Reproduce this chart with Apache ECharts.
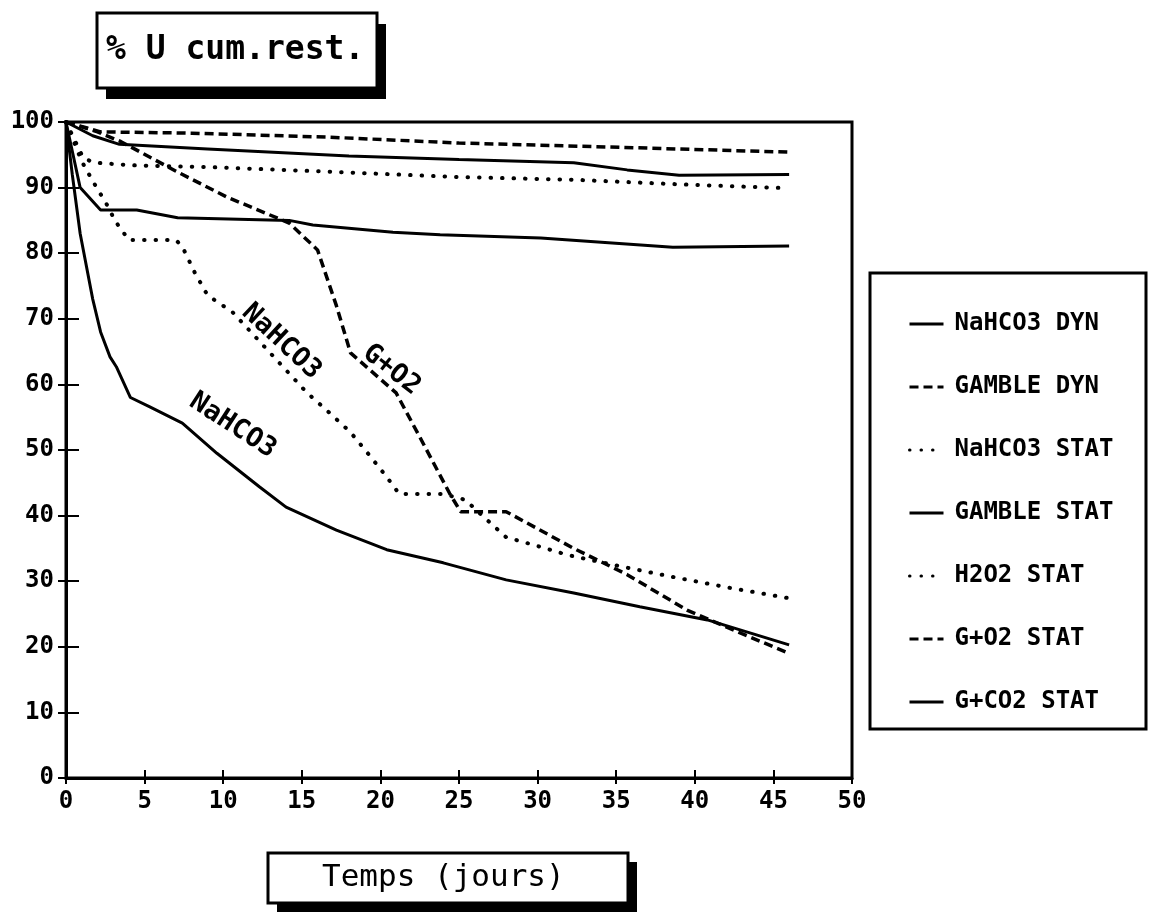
<!DOCTYPE html>
<html>
<head>
<meta charset="utf-8">
<script src="https://cdn.jsdelivr.net/npm/echarts@6/dist/echarts.min.js"></script>
<style>
  html, body { margin: 0; padding: 0; background: #fff; }
  #chart { width: 1150px; height: 920px; }
</style>
</head>
<body>
<div id="chart"></div>
<script>
// series data: days and % U cumulative remaining
const nahco3DynDays = [0, 0.4, 0.9, 1.7, 2.2, 2.8, 3.2, 4.1, 5.3, 7.4, 9.6, 12.3, 14, 17.2, 20.4, 24, 28, 32.3, 36.5, 40.8, 46];
const nahco3DynVals = [100, 92, 83, 73, 68, 64.2, 62.7, 58, 56.6, 54.1, 49.5, 44.4, 41.3, 37.8, 34.8, 32.8, 30.2, 28.2, 26.1, 24.1, 20.3];

const gambleDynDays = [0, 2.2, 8, 16.6, 25, 34.4, 46];
const gambleDynVals = [100, 98.5, 98.3, 97.7, 96.8, 96.2, 95.4];

const nahco3StatDays = [0, 1, 1.7, 2.2, 2.7, 3.1, 4, 7, 7.4, 8.2, 9, 10.6, 15.3, 16.7, 18.1, 19.2, 20.4, 21.2, 24, 25.4, 26.8, 28, 29.8, 31.9, 35.4, 38.7, 42.2, 46];
const nahco3StatVals = [100, 94, 91, 89, 87, 85, 82, 82, 81, 77, 73.6, 71, 58.8, 55.8, 52.7, 49.5, 45.9, 43.3, 43.3, 42.4, 39.3, 36.7, 35.5, 34, 32.2, 30.6, 29, 27.4];

const gambleStatDays = [0, 1.7, 3.4, 9, 18, 25, 32.3, 35.7, 39, 46];
const gambleStatVals = [100, 97.9, 96.6, 95.9, 94.8, 94.3, 93.8, 92.7, 91.9, 92];

const h2o2StatDays = [0, 1.1, 1.8, 4.2, 9.4, 17, 25, 32.3, 39, 46];
const h2o2StatVals = [100, 94.5, 93.8, 93.4, 93.1, 92.4, 91.6, 91.2, 90.5, 89.9];

const go2StatDays = [0, 2, 3.5, 7, 10.2, 14.2, 16, 17.2, 18.1, 21, 22.5, 24.4, 25.1, 28, 32.3, 35.7, 39.5, 43, 46];
const go2StatVals = [100, 98.5, 97, 92.5, 88.6, 84.6, 80.5, 72, 64.8, 58.7, 52, 43.4, 40.6, 40.6, 35, 31, 25.6, 22, 19];

const gco2StatDays = [0, 0.9, 2.2, 4.5, 7.1, 14.2, 15.7, 20.8, 23.8, 30.2, 38.6, 46];
const gco2StatVals = [100, 90, 86.6, 86.6, 85.4, 85, 84.3, 83.2, 82.8, 82.3, 80.9, 81.1];

// in-plot annotations: text, day, value, angle
const notes = [
  { text: 'NaHCO3', x: 13.7, y: 66.5, angle: 43 },
  { text: 'G+O2', x: 20.7, y: 62.2, angle: 38 },
  { text: 'NaHCO3', x: 10.6, y: 53.7, angle: 33 }
];

const MONO = "'DejaVu Sans Mono', 'Liberation Mono', monospace";

const zip = (xs, ys) => xs.map((x, i) => [x, ys[i]]);

const SOLID = { color: '#000', width: 3, type: 'solid' };
const DASHED = { color: '#000', width: 3.5, type: [9, 5] };
const DOTTED = { color: '#000', width: 4, type: [0.5, 11], cap: 'round' };

function makeSeries(name, days, vals, style) {
  return {
    name: name,
    type: 'line',
    data: zip(days, vals),
    symbol: 'none',
    lineStyle: style,
    itemStyle: { color: '#000' },
    animation: false,
    xAxisIndex: 0,
    yAxisIndex: 0
  };
}

const chart = echarts.init(document.getElementById('chart'), null, { renderer: 'canvas' });

const axisFont = { color: '#000', fontFamily: MONO, fontWeight: 'bold', fontSize: 24 };

const option = {
  animation: false,
  backgroundColor: '#fff',
  grid: {
    left: 66, right: 298, top: 122, bottom: 142,
    show: true, borderColor: '#000', borderWidth: 3
  },
  xAxis: [{
    type: 'value', min: 0, max: 50, interval: 5,
    axisLine: { lineStyle: { color: '#000', width: 3 } },
    axisTick: { length: 6, lineStyle: { color: '#000', width: 2 } },
    axisLabel: Object.assign({ margin: 12 }, axisFont),
    splitLine: { show: false }
  }, {
    type: 'value', min: 0, max: 50, interval: 5, position: 'bottom',
    axisLine: { show: false },
    axisTick: { inside: true, length: 8, lineStyle: { color: '#000', width: 2 } },
    axisLabel: { show: false },
    splitLine: { show: false }
  }],
  yAxis: [{
    type: 'value', min: 0, max: 100, interval: 10,
    axisLine: { show: true, lineStyle: { color: '#000', width: 3 } },
    axisTick: { show: true, length: 8, lineStyle: { color: '#000', width: 2 } },
    axisLabel: Object.assign({ margin: 12 }, axisFont),
    splitLine: { show: false }
  }, {
    type: 'value', min: 0, max: 100, interval: 10, position: 'left',
    axisLine: { show: false },
    axisTick: { show: true, inside: true, length: 13, lineStyle: { color: '#000', width: 2 } },
    axisLabel: { show: false },
    splitLine: { show: false }
  }],
  legend: {
    orient: 'vertical',
    left: 903, top: 304,
    itemWidth: 34, itemHeight: 14, itemGap: 33,
    itemStyle: { opacity: 0, borderWidth: 0 },
    lineStyle: { width: 3 },
    textStyle: { color: '#000', fontFamily: MONO, fontWeight: 'bold', fontSize: 24, lineHeight: 30, padding: [0, 0, 0, 6] },
    data: ['NaHCO3 DYN', 'GAMBLE DYN', 'NaHCO3 STAT', 'GAMBLE STAT', 'H2O2 STAT', 'G+O2 STAT', 'G+CO2 STAT']
  },
  series: [
    makeSeries('NaHCO3 DYN', nahco3DynDays, nahco3DynVals, SOLID),
    makeSeries('GAMBLE DYN', gambleDynDays, gambleDynVals, DASHED),
    makeSeries('NaHCO3 STAT', nahco3StatDays, nahco3StatVals, DOTTED),
    makeSeries('GAMBLE STAT', gambleStatDays, gambleStatVals, SOLID),
    makeSeries('H2O2 STAT', h2o2StatDays, h2o2StatVals, DOTTED),
    makeSeries('G+O2 STAT', go2StatDays, go2StatVals, DASHED),
    makeSeries('G+CO2 STAT', gco2StatDays, gco2StatVals, SOLID)
  ]
};

chart.setOption(option);

// boxes with drop shadow, legend frame, and annotations
function shadowBox(x, y, w, h, dx, dy, text, font, textX) {
  return [
    { type: 'rect', shape: { x: x + dx, y: y + dy, width: w, height: h }, style: { fill: '#000' }, z: 10 },
    { type: 'rect', shape: { x: x, y: y, width: w, height: h }, style: { fill: '#fff', stroke: '#000', lineWidth: 3 }, z: 11 },
    { type: 'text', x: textX, y: y + h / 2, z: 12,
      style: { text: text, fill: '#000', font: font, textAlign: 'left', textVerticalAlign: 'middle' } }
  ];
}

const graphics = [];
graphics.push(...shadowBox(97, 13, 280, 75, 9, 11, '% U cum.rest.', 'bold 33px ' + MONO, 106));
graphics.push(...shadowBox(268, 853, 360, 50, 9, 9, 'Temps (jours)', '31px ' + MONO, 322));
graphics.push({
  type: 'rect', shape: { x: 870, y: 273, width: 276, height: 456 },
  style: { fill: 'none', stroke: '#000', lineWidth: 3 }, z: 5
});

notes.forEach(n => {
  const p = chart.convertToPixel({ gridIndex: 0 }, [n.x, n.y]);
  graphics.push({
    type: 'text', x: p[0], y: p[1], rotation: -n.angle * Math.PI / 180, z: 20,
    style: {
      text: n.text, fill: '#000',
      font: 'bold 27px ' + MONO,
      textAlign: 'center', textVerticalAlign: 'middle'
    }
  });
});

chart.setOption({ graphic: graphics });
</script>
</body>
</html>
